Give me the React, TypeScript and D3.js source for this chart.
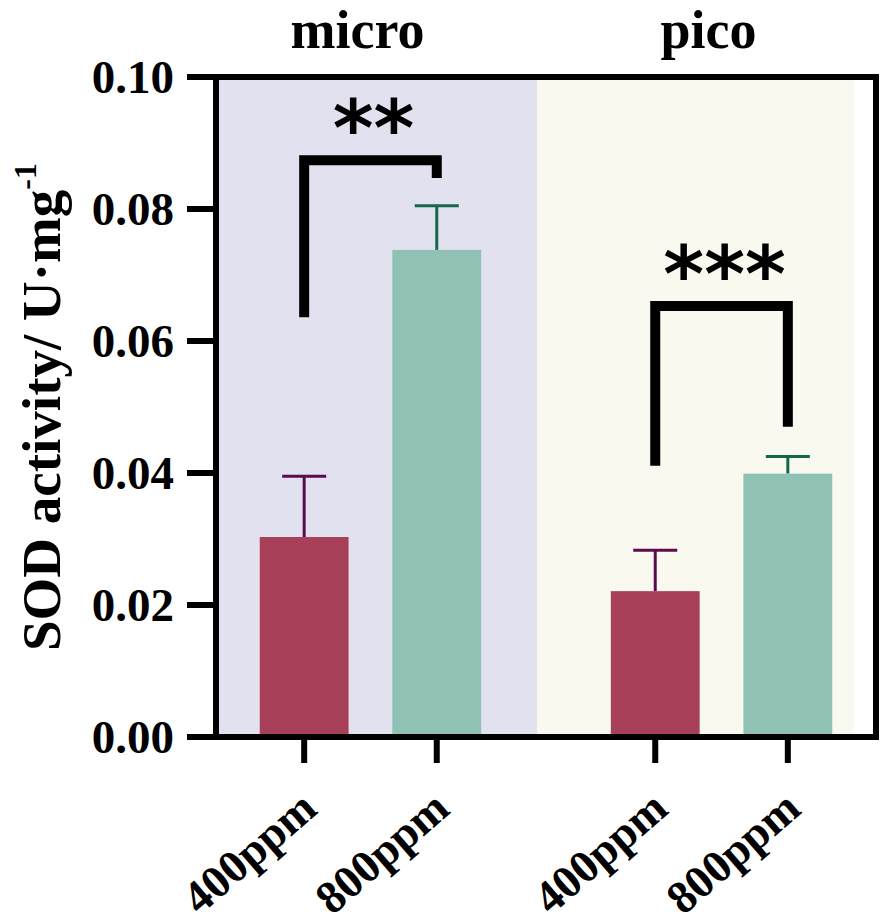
import React from 'react';
import * as d3 from 'd3';

// values
const groups = ['micro', 'pico'];
const doses = ['400ppm', '800ppm'];
const means = [
  [0.0303, 0.0738],
  [0.0221, 0.0399],
];
const errors = [
  [0.0092, 0.0067],
  [0.0062, 0.0026],
];
const yTicks = [0, 0.02, 0.04, 0.06, 0.08, 0.1];
// significance brackets: top of bracket, lower end of left leg, lower end of right leg
const sigLabels = ['**', '***'];
const sigTop = [0.0874, 0.0653];
const sigLeft = [0.0636, 0.0411];
const sigRight = [0.0847, 0.047];

const W = 886;
const H = 923;
const left = 216;
const right = 876;
const top = 77;
const bottom = 737;

const barFill = ['#a8405a', '#8fc2b5'];
const errColor = ['#5a0c4e', '#13684a'];
const panelFill = ['#e2e1ef', '#f9f9f0'];
const serif = '"Liberation Serif", "Times New Roman", serif';

const App: React.FC = () => {
  const x0 = d3.scaleBand<string>().domain(groups).range([left, right]).paddingInner(0.12).paddingOuter(0);
  const x1 = d3.scaleBand<string>().domain(doses).range([0, x0.bandwidth()]).padding(0.33);
  const y = d3.scaleLinear().domain([0, 0.1]).range([bottom, top]);

  const panelEdges = [left + 3, x0('pico')! - 30, right - 22];

  return (
    <svg width={W} height={H} style={{ position: 'absolute', left: 0, top: 0, background: '#fff' }}>
      {/* group backgrounds */}
      {groups.map((g, i) => (
        <rect key={g} x={panelEdges[i]} y={top + 3} width={panelEdges[i + 1] - panelEdges[i]}
          height={bottom - top - 6} fill={panelFill[i]} />
      ))}

      {/* bars and error bars */}
      {groups.map((g, gi) =>
        doses.map((d, di) => {
          const bx = x0(g)! + x1(d)!;
          const cx = bx + x1.bandwidth() / 2;
          const v = means[gi][di];
          const e = errors[gi][di];
          return (
            <g key={g + d}>
              <line x1={cx} x2={cx} y1={y(v)} y2={y(v + e)} stroke={errColor[di]} strokeWidth={3} />
              <line x1={cx - 22} x2={cx + 22} y1={y(v + e)} y2={y(v + e)} stroke={errColor[di]} strokeWidth={3} />
              <rect x={bx} y={y(v)} width={x1.bandwidth()} height={y(0) - y(v)} fill={barFill[di]} />
            </g>
          );
        })
      )}

      {/* significance brackets */}
      {groups.map((g, gi) => {
        const xa = x0(g)! + x1(doses[0])! + x1.bandwidth() / 2;
        const xb = x0(g)! + x1(doses[1])! + x1.bandwidth() / 2;
        const path = `M${xa},${y(sigLeft[gi])}V${y(sigTop[gi])}H${xb}V${y(sigRight[gi])}`;
        return (
          <g key={'sig' + g}>
            <path d={path} fill="none" stroke="#000" strokeWidth={10} strokeLinejoin="miter" />
            <text x={(xa + xb) / 2 + 3} y={y(sigTop[gi]) - 4} textAnchor="middle"
              fontFamily='"DejaVu Sans", sans-serif' fontWeight="bold" fontSize={78}>
              {sigLabels[gi]}
            </text>
          </g>
        );
      })}

      {/* frame */}
      <rect x={left} y={top} width={right - left} height={bottom - top} fill="none" stroke="#000" strokeWidth={6} />

      {/* y axis ticks and labels */}
      {yTicks.map((t) => (
        <g key={t}>
          <line x1={left - 29} x2={left} y1={y(t)} y2={y(t)} stroke="#000" strokeWidth={6} />
          <text x={174} y={y(t)} dy="0.35em" textAnchor="end" fontFamily={serif} fontWeight="bold" fontSize={47}>
            {d3.format('.2f')(t)}
          </text>
        </g>
      ))}

      {/* x axis ticks and labels */}
      {groups.map((g) =>
        doses.map((d) => {
          const cx = x0(g)! + x1(d)! + x1.bandwidth() / 2;
          return (
            <g key={'xt' + g + d}>
              <line x1={cx} x2={cx} y1={bottom} y2={bottom + 26} stroke="#000" strokeWidth={6} />
              <text transform={`translate(${cx + 15},${bottom + 75}) rotate(-41)`} textAnchor="end"
                fontFamily={serif} fontWeight="bold" fontSize={46}>
                {d}
              </text>
            </g>
          );
        })
      )}

      {/* group titles */}
      {groups.map((g) => (
        <text key={'t' + g} x={x0(g)! + x0.bandwidth() / 2 - 13} y={48} textAnchor="middle"
          fontFamily={serif} fontWeight="bold" fontSize={54}>
          {g}
        </text>
      ))}

      {/* y axis title */}
      <text transform={`translate(60,${(top + bottom) / 2}) rotate(-90)`} textAnchor="middle"
        fontFamily={serif} fontWeight="bold" fontSize={55}>
        SOD activity/ U·mg<tspan dy={-24} fontSize={32}>-1</tspan>
      </text>
    </svg>
  );
};

export default App;
